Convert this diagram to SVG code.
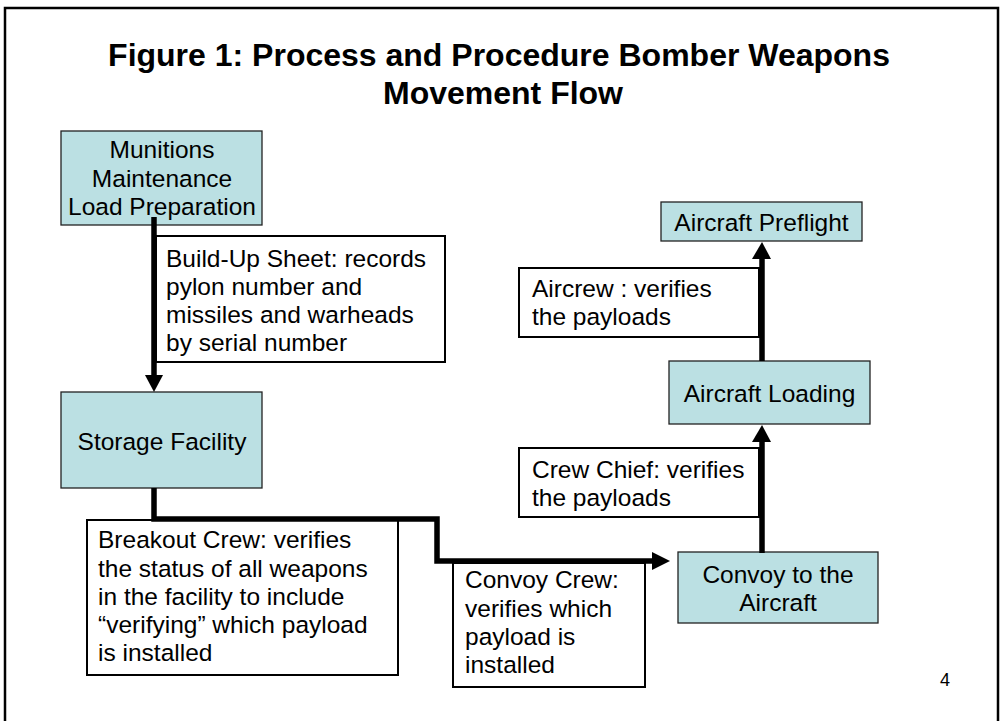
<svg xmlns="http://www.w3.org/2000/svg" width="1002" height="721" viewBox="0 0 1002 721">
<style>
text{font-family:"Liberation Sans",Arial,sans-serif;fill:#000}
.t{font-size:32px;font-weight:bold;text-anchor:middle}
.b{font-size:24.5px}
.c{text-anchor:middle}
.node{fill:#BBE0E3;stroke:#222;stroke-width:1.3}
.lab{fill:#fff;stroke:#000;stroke-width:2}
.con{fill:none;stroke:#000;stroke-width:5.5;stroke-linejoin:miter}
.ah{fill:#000}
</style>
<rect width="1002" height="721" fill="#fff"/>
<path d="M5,721 V8 H998 V721" fill="none" stroke="#000" stroke-width="2.5"/>
<text class="t" x="499" y="66">Figure 1: Process and Procedure Bomber Weapons</text>
<text class="t" x="503" y="104">Movement Flow</text>

<g id="label-buildup"><rect class="lab" x="156" y="236" width="289" height="126"/>
<text class="b" x="166" y="267">Build-Up Sheet: records</text>
<text class="b" x="166" y="295">pylon number and</text>
<text class="b" x="166" y="323">missiles and warheads</text>
<text class="b" x="166" y="351">by serial number</text></g>

<g id="label-breakout"><rect class="lab" x="87" y="520" width="311" height="155"/>
<text class="b" x="98" y="548">Breakout Crew: verifies</text>
<text class="b" x="98" y="576.5">the status of all weapons</text>
<text class="b" x="98" y="605">in the facility to include</text>
<text class="b" x="98" y="633">“verifying” which payload</text>
<text class="b" x="98" y="661">is installed</text></g>

<g id="label-convoycrew"><rect class="lab" x="453" y="563" width="192" height="124"/>
<text class="b" x="465" y="588">Convoy Crew:</text>
<text class="b" x="465" y="616.5">verifies which</text>
<text class="b" x="465" y="645">payload is</text>
<text class="b" x="465" y="673">installed</text></g>

<g id="label-crewchief"><rect class="lab" x="519" y="448" width="240" height="69"/>
<text class="b" x="532" y="478">Crew Chief: verifies</text>
<text class="b" x="532" y="506">the payloads</text></g>

<g id="label-aircrew"><rect class="lab" x="519" y="268" width="240" height="69"/>
<text class="b" x="532" y="297">Aircrew : verifies</text>
<text class="b" x="532" y="325">the payloads</text></g>

<g id="node-munitions"><rect class="node" x="61" y="131" width="201" height="94"/>
<text class="b c" x="162" y="158">Munitions</text>
<text class="b c" x="162" y="187">Maintenance</text>
<text class="b c" x="162" y="215">Load Preparation</text></g>

<g id="node-storage"><rect class="node" x="61" y="392" width="201" height="96"/>
<text class="b c" x="162" y="450">Storage Facility</text></g>

<g id="node-convoy"><rect class="node" x="678" y="552" width="200" height="71"/>
<text class="b c" x="778" y="583">Convoy to the</text>
<text class="b c" x="778" y="611">Aircraft</text></g>

<g id="node-loading"><rect class="node" x="669" y="361" width="201" height="63"/>
<text class="b c" x="769.5" y="402">Aircraft Loading</text></g>

<g id="node-preflight"><rect class="node" x="661" y="202" width="201" height="39"/>
<text class="b c" x="761.5" y="231">Aircraft Preflight</text></g>

<g id="connectors">
<path class="con" d="M154,217 V377"/>
<polygon class="ah" points="145,375 163,375 154,392"/>
<path class="con" d="M154,488 V519 H437 V561 H654"/>
<polygon class="ah" points="652,552 670,561 652,570"/>
<path class="con" d="M762,553 V440"/>
<polygon class="ah" points="752,442 771,442 762,425"/>
<path class="con" d="M762,361 V257"/>
<polygon class="ah" points="752,259 771,259 762,242"/>
</g>

<text x="940" y="686" style="font-size:18px">4</text>
</svg>
